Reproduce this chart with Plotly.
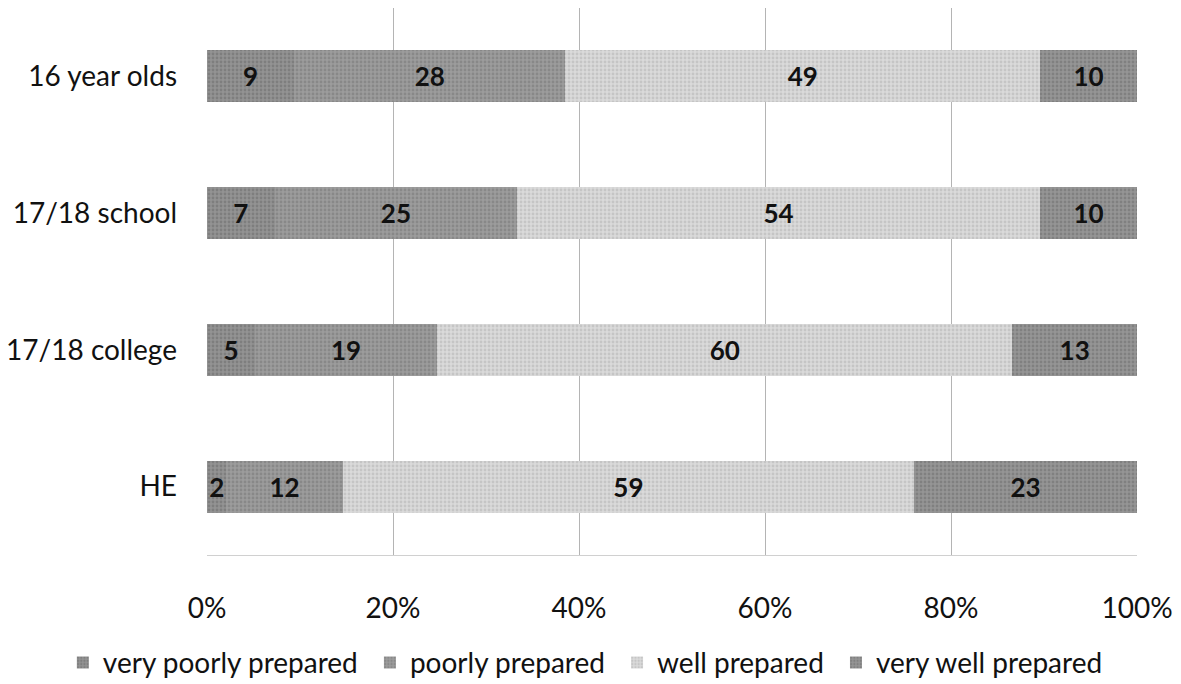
import plotly.graph_objects as go

# Survey responses: how prepared each group felt (counts shown in the bars)
groups = ["16 year olds", "17/18 school", "17/18 college", "HE"]
very_poorly = [9, 7, 5, 2]
poorly = [28, 25, 19, 12]
well = [49, 54, 60, 59]
very_well = [10, 10, 13, 23]

series = [
    ("very poorly prepared", very_poorly, "#939393", "#6a6a6a"),
    ("poorly prepared", poorly, "#9c9c9c", "#737373"),
    ("well prepared", well, "#dadada", "#b0b0b0"),
    ("very well prepared", very_well, "#959595", "#6c6c6c"),
]

FONT = "Lato"
NBSP = "\u00a0"

fig = go.Figure()
for i, (name, vals, bg, fg) in enumerate(series):
    # a trailing non-breaking space widens the gap between legend entries
    label = name if i == len(series) - 1 else name + NBSP
    fig.add_trace(go.Bar(
        y=groups,
        x=vals,
        name=label,
        orientation="h",
        text=[str(v) for v in vals],
        textposition="inside",
        insidetextanchor="middle",
        constraintext="none",
        textangle=0,
        textfont=dict(family=FONT, size=26, color="#111111", weight="bold"),
        marker=dict(
            color=bg,
            line=dict(width=0),
            pattern=dict(shape=".", fgcolor=fg, bgcolor=bg, size=4, solidity=0.4),
        ),
        cliponaxis=False,
    ))

fig.update_layout(
    barmode="stack",
    barnorm="percent",
    bargap=0.62,
    width=1181,
    height=684,
    margin=dict(l=207, r=44, t=8, b=129, autoexpand=False),
    paper_bgcolor="white",
    plot_bgcolor="white",
    font=dict(family=FONT, size=28, color="#111111"),
    uniformtext=dict(mode=False),
    legend=dict(
        orientation="h",
        x=-0.155,
        xanchor="left",
        y=-0.197,
        yanchor="middle",
        font=dict(family=FONT, size=28, color="#111111"),
        itemwidth=30,
        traceorder="normal",
        itemsizing="constant",
    ),
    showlegend=True,
)

fig.update_xaxes(
    range=[0, 100.0001],
    tickvals=[0, 20, 40, 60, 80, 100],
    ticktext=["0%", "20%", "40%", "60%", "80%", "100%"],
    showgrid=True,
    gridcolor="#b4b4b4",
    gridwidth=1,
    zeroline=False,
    showline=True,
    linecolor="#d0d0d0",
    linewidth=1,
    ticks="",
    ticklabelstandoff=28,
    tickfont=dict(family=FONT, size=28, color="#111111"),
)
fig.update_yaxes(
    categoryorder="array",
    categoryarray=groups,
    autorange="reversed",
    showgrid=False,
    zeroline=False,
    showline=False,
    ticks="",
    ticklabelstandoff=29,
    tickfont=dict(family=FONT, size=28, color="#111111"),
)

fig.write_html("out.html")
